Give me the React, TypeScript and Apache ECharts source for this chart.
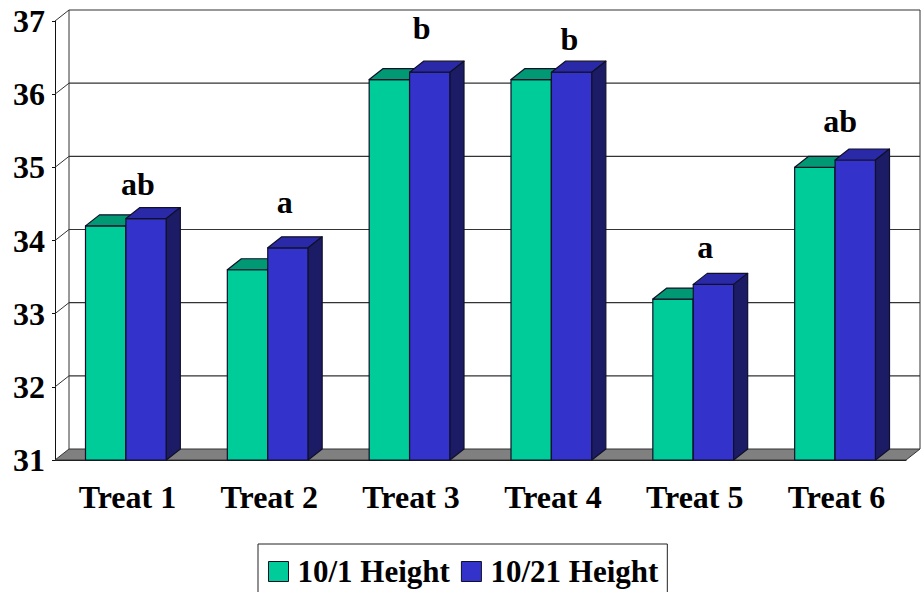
import React, { useEffect, useRef } from "react";
import * as echarts from "echarts";

const categories = ["Treat 1", "Treat 2", "Treat 3", "Treat 4", "Treat 5", "Treat 6"];
const height1 = [34.2, 33.6, 36.2, 36.2, 33.2, 35.0];
const height21 = [34.3, 33.9, 36.3, 36.3, 33.4, 35.1];
const letters = ["ab", "a", "b", "b", "a", "ab"];
const letterLevels = [34.77, 34.52, 36.9, 36.75, 33.91, 35.63];
const yTicks = [31, 32, 33, 34, 35, 36, 37];

const FONT = "'Liberation Serif', 'Times New Roman', serif";
const DX = 14;
const DY = -11;
const INK = "#10102a";
const LETTER_SHIFT = [12, 17, 12, 18, 12, 5];

function boxSeries(name: string, values: number[], side: -1 | 1, front: string, top: string, dark: string) {
  return {
    type: "custom",
    name,
    z: 3,
    itemStyle: { color: front },
    data: values.map((v, i) => [i, v]),
    renderItem: (_p: any, api: any) => {
      const w = api.size([1, 0])[0] * 0.285;
      const pt = api.coord([api.value(0), api.value(1)]);
      const base = api.coord([api.value(0), 31]);
      const x0 = side < 0 ? pt[0] - w : pt[0];
      const x1 = x0 + w;
      const yt = pt[1];
      const yb = base[1];
      const line = { stroke: INK, lineWidth: 1.2, lineJoin: "round" };
      return {
        type: "group",
        children: [
          { type: "rect", shape: { x: x0, y: yt, width: w, height: yb - yt }, style: { fill: front, ...line } },
          { type: "polygon", shape: { points: [[x0, yt], [x0 + DX, yt + DY], [x1 + DX, yt + DY], [x1, yt]] }, style: { fill: top, ...line } },
          { type: "polygon", shape: { points: [[x1, yt], [x1 + DX, yt + DY], [x1 + DX, yb + DY], [x1, yb]] }, style: { fill: dark, ...line } },
        ],
      };
    },
  };
}

export default function App() {
  const ref = useRef<HTMLDivElement>(null);
  useEffect(() => {
    const chart = echarts.init(ref.current!, undefined, { renderer: "svg" });
    chart.setOption({
      animation: false,
      backgroundColor: "#ffffff",
      grid: { left: 55, right: 17, top: 21, bottom: 132, containLabel: false },
      legend: {
        data: ["10/1 Height", "10/21 Height"],
        left: 258,
        top: 544,
        padding: [12, 9, 12, 10],
        itemGap: 11,
        itemWidth: 20,
        itemHeight: 20,
        icon: "rect",
        borderColor: "#222222",
        borderWidth: 1,
        backgroundColor: "#ffffff",
        textStyle: { fontFamily: FONT, fontWeight: "bold", fontSize: 31, color: "#000", padding: [0, 0, 0, 4] },
        itemStyle: { borderColor: INK, borderWidth: 1 },
      },
      xAxis: {
        type: "category",
        data: categories,
        axisLine: { lineStyle: { color: "#111", width: 1 } },
        axisTick: { length: 7, lineStyle: { color: "#111" } },
        axisLabel: { fontFamily: FONT, fontWeight: "bold", fontSize: 32, color: "#000", margin: 21, padding: [0, 0, 0, 3] },
        splitLine: { show: false },
      },
      yAxis: {
        type: "value",
        min: 31,
        max: 37,
        interval: 1,
        axisLine: { show: true, lineStyle: { color: "#111", width: 1 } },
        axisTick: { show: true, length: 3, lineStyle: { color: "#111" } },
        axisLabel: { fontFamily: FONT, fontWeight: "bold", fontSize: 32, color: "#000", margin: 10, padding: [8, 0, 0, 0] },
        splitLine: { show: false },
      },
      series: [
        {
          type: "custom",
          name: "walls",
          z: 1,
          silent: true,
          data: yTicks.map((t) => [0, t]),
          renderItem: (p: any, api: any) => {
            const cs = p.coordSys;
            const y = api.coord([0, api.value(1)])[1];
            const right = cs.x + cs.width;
            const bottom = cs.y + cs.height;
            const stroke = "#333333";
            const children: any[] = [];
            if (p.dataIndex === 0) {
              children.push({
                type: "polygon",
                shape: { points: [[cs.x, bottom], [cs.x + DX, bottom + DY], [right + DX, bottom + DY], [right, bottom]] },
                style: { fill: "#808080", stroke, lineWidth: 1 },
              });
              children.push({ type: "line", shape: { x1: cs.x + DX, y1: cs.y + DY, x2: cs.x + DX, y2: bottom + DY }, style: { stroke, lineWidth: 1 } });
              children.push({ type: "line", shape: { x1: right + DX, y1: cs.y + DY, x2: right + DX, y2: bottom + DY }, style: { stroke, lineWidth: 1 } });
            } else {
              children.push({ type: "line", shape: { x1: cs.x + DX, y1: y + DY, x2: right + DX, y2: y + DY }, style: { stroke, lineWidth: 1.2 } });
              children.push({ type: "line", shape: { x1: cs.x, y1: y, x2: cs.x + DX, y2: y + DY }, style: { stroke, lineWidth: 1 } });
            }
            return { type: "group", children };
          },
        },
        boxSeries("10/1 Height", height1, -1, "#00CC99", "#009973", "#007a5c"),
        boxSeries("10/21 Height", height21, 1, "#3333CC", "#2a2aa8", "#1C1C66"),
        {
          type: "custom",
          name: "letters",
          z: 4,
          silent: true,
          data: letterLevels.map((v, i) => [i, v]),
          renderItem: (p: any, api: any) => {
            const c = api.coord([api.value(0), api.value(1)]);
            return {
              type: "text",
              x: c[0] + LETTER_SHIFT[p.dataIndex],
              y: c[1],
              style: {
                text: letters[p.dataIndex],
                fontFamily: FONT,
                fontWeight: "bold",
                fontSize: 32,
                fill: "#000",
                align: "center",
                verticalAlign: "middle",
              },
            };
          },
        },
      ],
    });
    return () => chart.dispose();
  }, []);
  return <div ref={ref} style={{ position: "fixed", left: 0, top: 0, width: 923, height: 592 }} />;
}
